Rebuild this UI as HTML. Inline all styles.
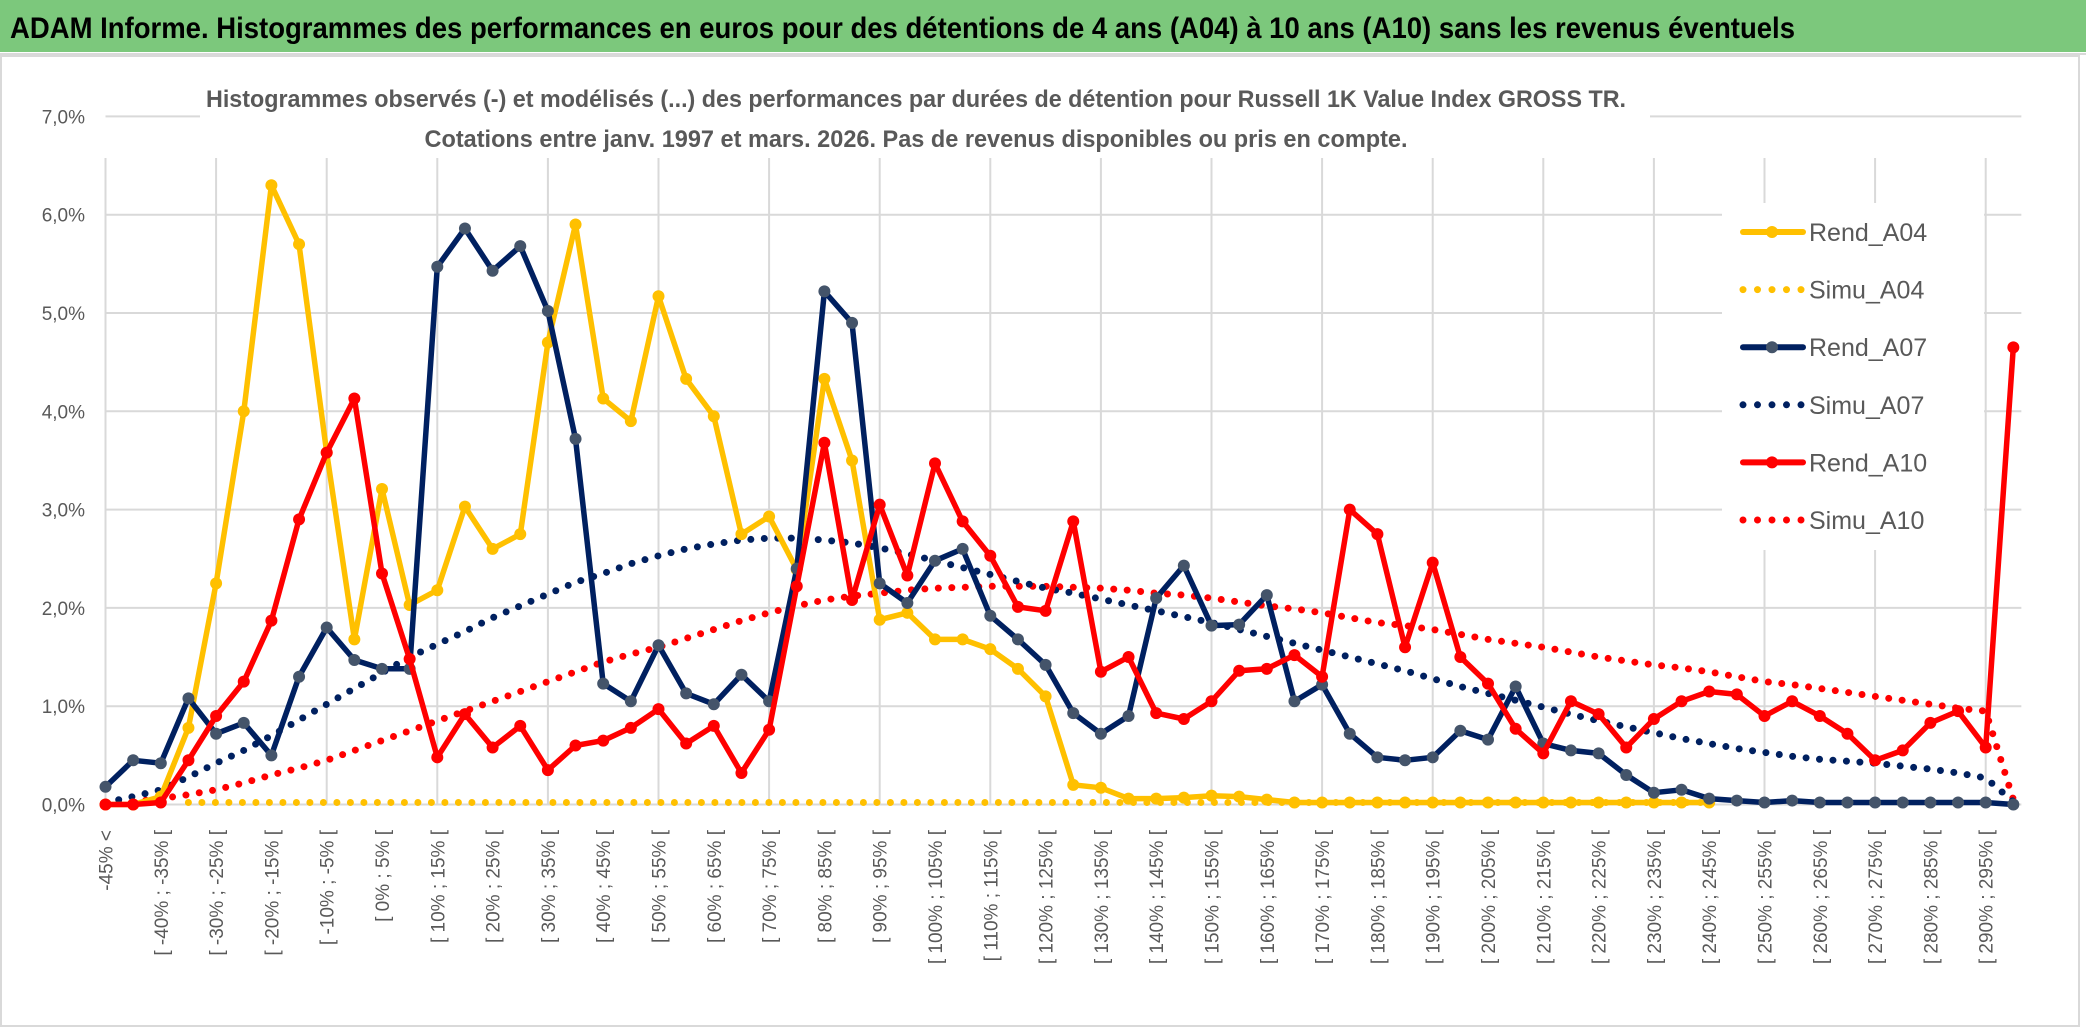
<!DOCTYPE html>
<html><head><meta charset="utf-8"><style>
html,body{margin:0;padding:0;background:#fff;}
svg{display:block;font-family:"Liberation Sans",sans-serif;}
</style></head><body>
<svg id="chart" width="2086" height="1031" viewBox="0 0 2086 1031" xmlns="http://www.w3.org/2000/svg">
<rect x="0" y="0" width="2086" height="1031" fill="#fff"/>
<rect x="0" y="0" width="2086" height="52" fill="#7cc87c"/>
<line x1="0" y1="54" x2="2086" y2="54" stroke="#d9d9d9" stroke-width="2"/>
<text x="10" y="38" font-size="30" font-weight="bold" fill="#000" textLength="1785" lengthAdjust="spacingAndGlyphs">ADAM Informe. Histogrammes des performances en euros pour des détentions de 4 ans (A04) à 10 ans (A10) sans les revenus éventuels</text>
<rect x="1" y="56" width="2078" height="970" fill="none" stroke="#d9d9d9" stroke-width="2"/>
<g id="grid"></g>
<rect x="200" y="60" width="1450" height="98" fill="#fff"/>
<text x="916" y="107" font-size="24" font-weight="bold" fill="#595959" text-anchor="middle" textLength="1420" lengthAdjust="spacingAndGlyphs">Histogrammes observés (-) et modélisés (...) des performances par durées de détention pour Russell 1K Value Index GROSS TR.</text>
<text x="916" y="147" font-size="24" font-weight="bold" fill="#595959" text-anchor="middle" textLength="983" lengthAdjust="spacingAndGlyphs">Cotations entre janv. 1997 et mars. 2026. Pas de revenus disponibles ou pris en compte.</text>
<g id="yaxis"></g>
<g id="xaxis"></g>
<g id="series"></g>
<g id="legend"></g>
</svg>
<script>
var yTicks = [0,1,2,3,4,5,6,7];
var yTickLabels = ["0,0%","1,0%","2,0%","3,0%","4,0%","5,0%","6,0%","7,0%"];
var categoryCount = 70;
var rendA04 = [0,0,0.08,0.78,2.25,4.0,6.3,5.7,3.58,1.68,3.21,2.03,2.18,3.03,2.6,2.75,4.7,5.9,4.13,3.9,5.17,4.33,3.95,2.75,2.93,2.39,4.33,3.5,1.88,1.95,1.68,1.68,1.58,1.38,1.1,0.2,0.17,0.06,0.06,0.07,0.09,0.08,0.05,0.02,0.02,0.02,0.02,0.02,0.02,0.02,0.02,0.02,0.02,0.02,0.02,0.02,0.02,0.02,0.02,null,null,null,null,null,null,null,null,null,null,null];
var simuA04 = [null,null,null,0.02,0.02,0.02,0.02,0.02,0.02,0.02,0.02,0.02,0.02,0.02,0.02,0.02,0.02,0.02,0.02,0.02,0.02,0.02,0.02,0.02,0.02,0.02,0.02,0.02,0.02,0.02,0.02,0.02,0.02,0.02,0.02,0.02,0.02,0.02,0.02,0.02,0.02,0.02,0.02,0.02,0.02,0.02,0.02,0.02,0.02,0.02,0.02,0.02,0.02,0.02,0.02,0.02,0.02,0.02,0.02,null,null,null,null,null,null,null,null,null,null,null];
var rendA07 = [0.18,0.45,0.42,1.08,0.72,0.83,0.5,1.3,1.8,1.47,1.38,1.38,5.47,5.86,5.43,5.68,5.02,3.72,1.23,1.05,1.62,1.13,1.02,1.32,1.05,2.4,5.22,4.9,2.25,2.05,2.48,2.6,1.92,1.68,1.42,0.93,0.72,0.9,2.1,2.43,1.82,1.83,2.13,1.05,1.22,0.72,0.48,0.45,0.48,0.75,0.66,1.2,0.62,0.55,0.52,0.3,0.12,0.15,0.06,0.04,0.02,0.04,0.02,0.02,0.02,0.02,0.02,0.02,0.02,0.0];
var simuA07 = [0.02,0.08,0.15,0.28,0.42,0.55,0.7,0.86,1.02,1.18,1.34,1.5,1.63,1.76,1.9,2.02,2.14,2.26,2.35,2.45,2.53,2.6,2.65,2.69,2.71,2.71,2.69,2.66,2.61,2.55,2.48,2.41,2.34,2.27,2.2,2.15,2.09,2.03,1.97,1.91,1.85,1.78,1.71,1.64,1.57,1.5,1.43,1.36,1.28,1.2,1.13,1.06,0.99,0.92,0.85,0.79,0.73,0.67,0.62,0.57,0.53,0.49,0.46,0.44,0.42,0.39,0.36,0.32,0.27,0.03];
var rendA10 = [0,0,0.02,0.45,0.9,1.25,1.87,2.9,3.58,4.13,2.35,1.48,0.48,0.92,0.58,0.8,0.35,0.6,0.65,0.78,0.97,0.62,0.8,0.32,0.76,2.22,3.68,2.08,3.05,2.33,3.47,2.88,2.53,2.01,1.97,2.88,1.35,1.5,0.93,0.87,1.05,1.36,1.38,1.52,1.3,3.0,2.75,1.6,2.46,1.5,1.23,0.77,0.52,1.05,0.92,0.58,0.87,1.05,1.15,1.12,0.9,1.05,0.9,0.72,0.45,0.55,0.83,0.95,0.58,4.65];
var simuA10 = [0.0,0.03,0.06,0.1,0.15,0.22,0.3,0.37,0.45,0.55,0.65,0.75,0.85,0.95,1.05,1.15,1.25,1.35,1.45,1.53,1.6,1.69,1.78,1.87,1.95,2.02,2.08,2.12,2.15,2.18,2.2,2.21,2.22,2.22,2.22,2.21,2.2,2.18,2.15,2.13,2.1,2.06,2.02,1.99,1.95,1.9,1.85,1.82,1.78,1.73,1.68,1.64,1.6,1.55,1.5,1.46,1.42,1.39,1.35,1.3,1.25,1.22,1.18,1.14,1.1,1.06,1.02,0.98,0.95,0.05];
var legendLabels = ["Rend_A04","Simu_A04","Rend_A07","Simu_A07","Rend_A10","Simu_A10"];

var NS = "http://www.w3.org/2000/svg";
var X0 = 105.5, DX = 27.65, Y0 = 804.5, DY = 98.3;
function xs(i){ return X0 + i*DX; }
function ys(v){ return Y0 - v*DY; }
function mk(tag, attrs, parent){ var e=document.createElementNS(NS,tag); for(var k in attrs){ e.setAttribute(k, attrs[k]); } parent.appendChild(e); return e; }
function catLabel(i){
  if(i===0) return "-45% <";
  var a=-45+5*(i-1), b=a+5;
  return "[ "+a+"% ; "+b+"% [";
}

var grid=document.getElementById('grid');
var xEnd = xs(categoryCount-1)+8;
for (var t=0;t<yTicks.length;t++){
  var gl = mk('line',{x1:X0,x2:xEnd,y1:ys(yTicks[t]),y2:ys(yTicks[t]),stroke:'#d9d9d9','stroke-width':2},grid);
  
  
}
for (var i=0;i<categoryCount;i+=4){
  var vl = mk('line',{x1:xs(i),x2:xs(i),y1:158,y2:Y0,stroke:'#d9d9d9','stroke-width':2},grid);
  
  
}

var yax=document.getElementById('yaxis');
for (var t=0;t<yTicks.length;t++){
  var tl = mk('text',{x:85,y:ys(yTicks[t])+7,'font-size':19,fill:'#595959','text-anchor':'end'},yax);
  tl.textContent = yTickLabels[t];
  
  
}

var xax=document.getElementById('xaxis');
for (var i=0;i<categoryCount;i+=2){
  var xt = mk('text',{x:0,y:0,'font-size':19,fill:'#595959','text-anchor':'end',transform:'translate('+(xs(i)+7)+',830) rotate(-90)'},xax);
  xt.textContent = catLabel(i);
  
  
}

var ser=document.getElementById('series');
function drawSeries(vals, color, dotted, marker, name){
  var g = mk('g',{},ser);
  
  
  var d='', pen=false;
  for (var i=0;i<vals.length;i++){
    if (vals[i]===null){ pen=false; continue; }
    d += (pen?'L':'M') + xs(i).toFixed(1)+','+ys(vals[i]).toFixed(1)+' ';
    pen=true;
  }
  var p;
  if (dotted){
    p = mk('path',{d:d,fill:'none',stroke:color,'stroke-width':7,'stroke-linecap':'round','stroke-dasharray':'0 13.5'},g);
  } else {
    p = mk('path',{d:d,fill:'none',stroke:color,'stroke-width':5.5,'stroke-linejoin':'round'},g);
  }
  
  
  if (marker){
    for (var i=0;i<vals.length;i++){
      if (vals[i]===null) continue;
      var c = mk('circle',{cx:xs(i),cy:ys(vals[i]),r:6,fill:marker},g);
      
      
    }
  }
}
drawSeries(simuA04,'#FFC000',true,null,'simu-a04');
drawSeries(simuA10,'#FF0000',true,null,'simu-a10');
drawSeries(simuA07,'#002060',true,null,'simu-a07');
drawSeries(rendA04,'#FFC000',false,'#FFC000','rend-a04');
drawSeries(rendA07,'#002060',false,'#44546A','rend-a07');
drawSeries(rendA10,'#FF0000',false,'#FF0000','rend-a10');

var leg=document.getElementById('legend');
var lb = mk('rect',{x:1722,y:203,width:262,height:347,fill:'#fff'},leg);


var legColors=['#FFC000','#FFC000','#002060','#002060','#FF0000','#FF0000'];
var legMarkers=['#FFC000',null,'#44546A',null,'#FF0000',null];
for (var k=0;k<legendLabels.length;k++){
  var ly = 232 + k*57.6;
  var eg = mk('g',{},leg);
  
  
  if (legMarkers[k]){
    mk('line',{x1:1743,x2:1803,y1:ly,y2:ly,stroke:legColors[k],'stroke-width':6,'stroke-linecap':'round'},eg);
    mk('circle',{cx:1772,cy:ly,r:6,fill:legMarkers[k]},eg);
  } else {
    mk('line',{x1:1743,x2:1803,y1:ly,y2:ly,stroke:legColors[k],'stroke-width':7,'stroke-linecap':'round','stroke-dasharray':'0 14.5'},eg);
  }
  var lt = mk('text',{x:1809,y:ly+9,'font-size':25,fill:'#595959'},eg);
  lt.textContent = legendLabels[k];
  
  
}
</script>
</body></html>
